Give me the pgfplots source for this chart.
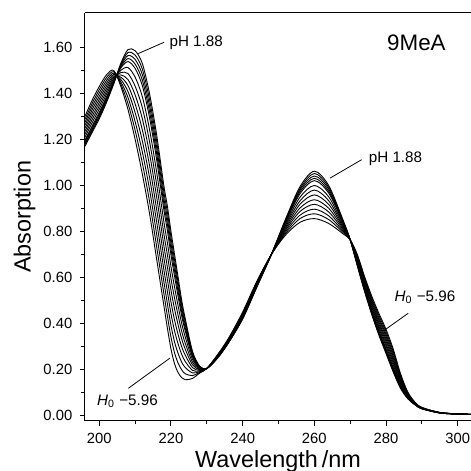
\documentclass[border=0pt]{standalone}
\usepackage{fontspec}
\setmainfont{Liberation Sans}
\usepackage{pgfplots}
\pgfplotsset{compat=1.18}
\usepackage{pgfplotstable}

% absorption spectra, pH 1.88 (c0) ... H0 -5.96 (c100)
\pgfplotstableread{
lambda c0    c05   c10   c15   c20   c30   c40   c50   c60   c70   c80   c90   c100
196    1.170 1.177 1.183 1.190 1.196 1.209 1.222 1.235 1.248 1.261 1.274 1.287 1.300
198    1.230 1.237 1.244 1.251 1.258 1.272 1.286 1.300 1.314 1.328 1.342 1.356 1.370
200    1.290 1.297 1.304 1.311 1.318 1.332 1.346 1.360 1.374 1.388 1.402 1.416 1.430
202    1.360 1.366 1.372 1.378 1.384 1.396 1.408 1.420 1.432 1.444 1.456 1.468 1.480
204    1.440 1.443 1.446 1.449 1.452 1.458 1.464 1.470 1.476 1.482 1.488 1.494 1.500
206    1.530 1.525 1.520 1.515 1.510 1.500 1.490 1.480 1.470 1.460 1.450 1.440 1.430
208    1.590 1.577 1.564 1.551 1.538 1.512 1.486 1.460 1.434 1.408 1.382 1.356 1.330
210    1.585 1.566 1.547 1.527 1.508 1.470 1.431 1.393 1.354 1.316 1.277 1.239 1.200
212    1.530 1.506 1.482 1.458 1.434 1.386 1.338 1.290 1.242 1.194 1.146 1.098 1.050
214    1.400 1.374 1.348 1.322 1.296 1.244 1.192 1.140 1.088 1.036 0.984 0.932 0.880
216    1.220 1.193 1.166 1.139 1.112 1.058 1.004 0.950 0.896 0.842 0.788 0.734 0.680
218    1.000 0.974 0.948 0.922 0.896 0.844 0.792 0.740 0.688 0.636 0.584 0.532 0.480
219    0.910 0.884 0.857 0.831 0.804 0.751 0.698 0.645 0.592 0.539 0.486 0.433 0.380
220    0.800 0.775 0.749 0.724 0.698 0.647 0.596 0.545 0.494 0.443 0.392 0.341 0.290
221    0.700 0.676 0.653 0.629 0.605 0.558 0.510 0.463 0.415 0.368 0.320 0.273 0.225
222    0.600 0.579 0.559 0.538 0.517 0.476 0.435 0.394 0.352 0.311 0.270 0.228 0.187
223    0.500 0.483 0.467 0.450 0.433 0.400 0.366 0.333 0.299 0.266 0.232 0.199 0.165
224    0.420 0.407 0.394 0.380 0.367 0.341 0.314 0.288 0.262 0.235 0.209 0.182 0.156
226    0.280 0.274 0.268 0.262 0.256 0.245 0.233 0.221 0.209 0.197 0.186 0.174 0.162
228    0.215 0.214 0.212 0.211 0.209 0.206 0.203 0.200 0.197 0.194 0.191 0.188 0.185
230    0.205 0.205 0.205 0.205 0.205 0.205 0.205 0.205 0.205 0.205 0.205 0.205 0.205
233    0.250 0.251 0.252 0.252 0.253 0.255 0.256 0.258 0.259 0.261 0.262 0.264 0.265
236    0.315 0.316 0.317 0.318 0.319 0.321 0.323 0.325 0.327 0.329 0.331 0.333 0.335
240    0.420 0.422 0.423 0.425 0.426 0.429 0.432 0.435 0.438 0.441 0.444 0.447 0.450
244    0.560 0.561 0.563 0.564 0.565 0.568 0.570 0.573 0.575 0.578 0.580 0.583 0.585
248    0.700 0.700 0.700 0.700 0.700 0.700 0.700 0.700 0.700 0.700 0.700 0.700 0.700
252    0.855 0.852 0.848 0.845 0.841 0.834 0.827 0.820 0.813 0.806 0.799 0.792 0.785
256    0.995 0.987 0.980 0.972 0.964 0.949 0.933 0.918 0.902 0.887 0.871 0.856 0.840
260    1.062 1.052 1.041 1.031 1.021 1.000 0.980 0.959 0.938 0.918 0.897 0.877 0.856
264    1.000 0.992 0.984 0.975 0.967 0.951 0.934 0.918 0.901 0.885 0.868 0.852 0.835
268    0.850 0.847 0.844 0.841 0.838 0.832 0.826 0.820 0.814 0.808 0.802 0.796 0.790
270    0.764 0.764 0.764 0.764 0.764 0.764 0.764 0.764 0.764 0.764 0.764 0.764 0.764
272    0.650 0.653 0.655 0.658 0.660 0.665 0.670 0.675 0.680 0.685 0.690 0.695 0.700
274    0.540 0.543 0.547 0.550 0.553 0.560 0.566 0.573 0.579 0.586 0.592 0.599 0.605
276    0.440 0.444 0.448 0.452 0.456 0.464 0.472 0.480 0.488 0.496 0.504 0.512 0.520
278    0.350 0.355 0.360 0.364 0.369 0.379 0.388 0.398 0.407 0.417 0.426 0.436 0.445
280    0.270 0.275 0.281 0.286 0.291 0.302 0.312 0.323 0.333 0.344 0.354 0.365 0.375
282    0.190 0.195 0.200 0.205 0.210 0.220 0.230 0.240 0.250 0.260 0.270 0.280 0.290
284    0.120 0.123 0.127 0.130 0.133 0.140 0.146 0.153 0.159 0.166 0.172 0.179 0.185
286    0.075 0.077 0.078 0.080 0.081 0.084 0.087 0.090 0.093 0.096 0.099 0.102 0.105
288    0.048 0.049 0.049 0.050 0.050 0.052 0.053 0.054 0.055 0.056 0.058 0.059 0.060
290    0.030 0.030 0.031 0.031 0.031 0.032 0.032 0.033 0.034 0.034 0.035 0.035 0.036
295    0.012 0.012 0.012 0.012 0.012 0.013 0.013 0.013 0.013 0.013 0.014 0.014 0.014
300    0.007 0.007 0.007 0.007 0.007 0.007 0.008 0.008 0.008 0.008 0.008 0.008 0.008
304    0.005 0.005 0.005 0.005 0.005 0.005 0.006 0.006 0.006 0.006 0.006 0.006 0.006
}\spectra

\newcommand{\annfont}{\fontsize{7.6}{9}\selectfont}

\begin{document}
\begin{tikzpicture}
\begin{axis}[
    name=ax,
    scale only axis,
    width=193pt, height=203.85pt,
    xmin=196.01, xmax=303.71,
    ymin=-0.0217, ymax=1.749,
    every non boxed y axis/.style={},
    axis x line=box, axis y line=left,
    y axis line style={-},
    axis line style={line width=0.5pt},
    tick align=outside,
    xtick pos=left, ytick pos=left,
    xtick={200,220,240,260,280,300},
    ytick={0,0.2,0.4,0.6,0.8,1.0,1.2,1.4,1.6},
    minor x tick num=1, minor y tick num=1,
    major tick length=2.5pt, minor tick length=1.8pt,
    tick style={line width=0.5pt, black},
    /pgf/number format/assume math mode=true,
    yticklabel style={/pgf/number format/fixed, /pgf/number format/fixed zerofill,
                      /pgf/number format/precision=2},
    tick label style={font=\fontsize{7.4}{8}\selectfont, inner sep=0pt},
    xticklabel style={anchor=north, yshift=-3.5pt},
    yticklabel style={anchor=east, xshift=-3.65pt},
    xlabel={Wavelength\,/nm},
    ylabel={Absorption},
    label style={font=\fontsize{11.7}{13}\selectfont, inner sep=0pt},
    xlabel style={at={(axis description cs:0.5,0)}, anchor=base, yshift=-23.6pt},
    ylabel style={at={([xshift=-27.2pt]axis description cs:0,0.5)}, anchor=base},
    clip=true,
    spec/.style={black, line width=0.45pt, smooth, no markers},
]
\addplot[spec] table[x=lambda, y=c0]   {\spectra};
\addplot[spec] table[x=lambda, y=c05]  {\spectra};
\addplot[spec] table[x=lambda, y=c10]  {\spectra};
\addplot[spec] table[x=lambda, y=c15]  {\spectra};
\addplot[spec] table[x=lambda, y=c20]  {\spectra};
\addplot[spec] table[x=lambda, y=c30]  {\spectra};
\addplot[spec] table[x=lambda, y=c40]  {\spectra};
\addplot[spec] table[x=lambda, y=c50]  {\spectra};
\addplot[spec] table[x=lambda, y=c60]  {\spectra};
\addplot[spec] table[x=lambda, y=c70]  {\spectra};
\addplot[spec] table[x=lambda, y=c80]  {\spectra};
\addplot[spec] table[x=lambda, y=c90]  {\spectra};
\addplot[spec] table[x=lambda, y=c100] {\spectra};

% labels and leaders
\node[anchor=base west, inner sep=0pt, font=\fontsize{11.2}{13}\selectfont]
    at (axis cs:280.2,1.588) {9MeA};
\draw[line width=0.4pt] (axis cs:218.1,1.622) -- (axis cs:210.9,1.573);
\node[anchor=base west, inner sep=0pt, font=\annfont] at (axis cs:219.5,1.603) {pH 1.88};
\draw[line width=0.4pt] (axis cs:273.2,1.112) -- (axis cs:264.4,1.032);
\node[anchor=base west, inner sep=0pt, font=\annfont] at (axis cs:275.1,1.100) {pH 1.88};
\draw[line width=0.4pt] (axis cs:208.1,0.119) -- (axis cs:219.7,0.250);
\node[anchor=base west, inner sep=0pt, font=\annfont] at (axis cs:199.3,0.043)
    {\textit{H}\textsubscript{0} −5.96};
\draw[line width=0.4pt] (axis cs:286.2,0.445) -- (axis cs:279.7,0.373);
\node[anchor=base west, inner sep=0pt, font=\annfont] at (axis cs:282.3,0.495)
    {\textit{H}\textsubscript{0} −5.96};
\end{axis}
\pgfresetboundingbox
\path ([xshift=-42.5pt,yshift=-25.15pt]ax.south west) rectangle ([yshift=6.5pt]ax.north east);
\end{tikzpicture}
\end{document}
